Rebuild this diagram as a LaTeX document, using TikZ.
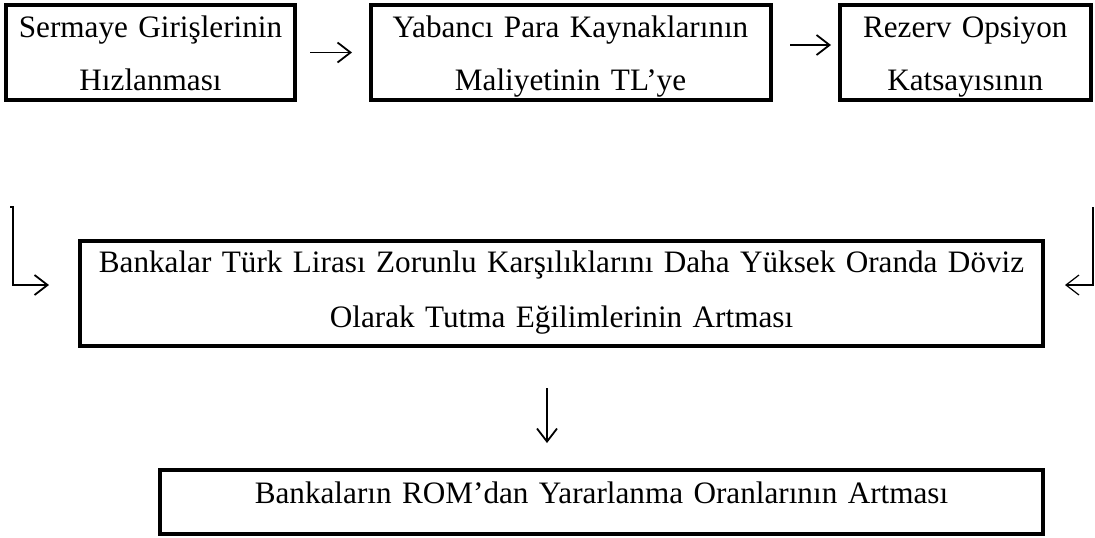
\documentclass[tikz,border=0pt]{standalone}
\usepackage{fontspec}
\setmainfont{Liberation Serif}
\usetikzlibrary{positioning,arrows.meta}

\begin{document}
\begin{tikzpicture}[x=0.5pt, y=-0.5pt,
    box/.style={draw, line width=2pt, inner sep=0pt, outer sep=0pt, align=center, font=\fontsize{15.6}{26.5}\selectfont},
    toprow/.style={box, text width=#1, text height=16pt, text depth=31.5pt},
    arr/.style={-{Straight Barb[length=6.5pt, width=10pt]}, line width=0.9pt}
  ]
    \useasboundingbox (0,0) rectangle (1095,537);

    % first row
    \node[toprow=144.5pt] (giris) at (150.5,52.5) {Sermaye Girişlerinin\\Hızlanması};
    \node[toprow=200pt] (maliyet) [right=37.75pt of giris] {Yabancı Para Kaynaklarının\\Maliyetinin TL’ye};
    \node[toprow=125.25pt] (rok) [right=34.75pt of maliyet] {Rezerv Opsiyon\\Katsayısının};

    % second and third row
    \node[box, text width=481.5pt, text height=15.5pt, text depth=37pt, font=\fontsize{15.6}{27.5}\selectfont] (doviz) at (561.5,293.5)
        {Bankalar Türk Lirası Zorunlu Karşılıklarını Daha Yüksek Oranda Döviz\\Olarak Tutma Eğilimlerinin Artması};
    \node[box, text width=441.5pt, text height=16.5pt, text depth=15.5pt] (rom) at (601.5,502)
        {Bankaların ROM’dan Yararlanma Oranlarının Artması};

    \coordinate (solust) at (13,207);
    \coordinate (sagust) at (1093,207);

    \draw[arr, shorten <=7.5pt, shorten >=9.25pt] (giris) -- (maliyet);
    \draw[arr, shorten <=9.75pt, shorten >=4.5pt] ([yshift=3.75pt]maliyet.east) -- ([yshift=3.75pt]rok.west);

    \draw[arr, shorten >=15.5pt] ([xshift=-1.5pt]solust) -- (solust) |- ([yshift=4.25pt]doviz.west);
    \draw[arr, line width=0.6pt, shorten >=11pt] (sagust) |- ([yshift=4.25pt]doviz.east);

    \draw[arr, shorten <=21pt, shorten >=13.5pt] ([xshift=-7.25pt]doviz.south) -- ([xshift=-7.25pt]doviz.south |- rom.north);

\end{tikzpicture}
\end{document}
